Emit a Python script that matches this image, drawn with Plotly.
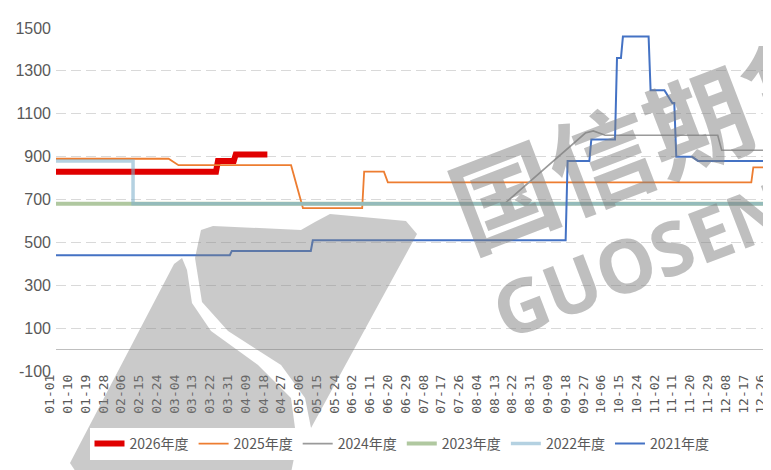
import plotly.graph_objects as go

# x 轴刻度（每 9 天一个）
tick_labels = [
    "01-01", "01-10", "01-19", "01-28", "02-06", "02-15", "02-24", "03-04",
    "03-13", "03-22", "03-31", "04-09", "04-18", "04-27", "05-06", "05-15",
    "05-24", "06-02", "06-11", "06-20", "06-29", "07-08", "07-17", "07-26",
    "08-04", "08-13", "08-22", "08-31", "09-09", "09-18", "09-27", "10-06",
    "10-15", "10-24", "11-02", "11-11", "11-20", "11-29", "12-08", "12-17",
    "12-26",
]
y_ticks = [-100, 100, 300, 500, 700, 900, 1100, 1300, 1500]

# 各年度数据（拐点日期 / 数值）
d2026 = ["01-01", "03-22", "03-23", "03-31", "04-01", "04-17"]
v2026 = [830, 830, 880, 880, 910, 910]

d2025 = ["01-01", "02-27", "03-03", "04-29", "05-05", "06-04", "06-05",
         "06-15", "06-17", "12-18", "12-19", "12-31"]
v2025 = [890, 890, 860, 860, 660, 660, 830, 830, 780, 780, 850, 850]

d2024 = ["01-01", "08-15", "09-25", "09-29", "10-05", "12-01", "12-03", "12-31"]
v2024 = [680, 680, 1010, 1020, 1000, 1000, 930, 930]

d2023 = ["01-01", "12-30"]
v2023 = [680, 680]

d2022 = ["01-01", "02-09", "02-09", "12-30"]
v2022 = [880, 880, 680, 680]

d2021 = ["01-01", "03-29", "03-30", "05-09", "05-10", "09-15", "09-16",
         "09-27", "09-28", "10-10", "10-11", "10-13", "10-14", "10-27",
         "10-28", "11-04", "11-08", "11-09", "11-10", "11-18", "11-21", "12-31"]
v2021 = [440, 440, 460, 460, 510, 510, 880, 880, 980, 980, 1360, 1360,
         1460, 1460, 1210, 1210, 1150, 1150, 900, 900, 880, 880]

series = [
    ("2026年度", d2026, v2026, "#E00000", 6),
    ("2025年度", d2025, v2025, "#ED7D31", 1.8),
    ("2024年度", d2024, v2024, "#9A9A9A", 1.6),
    ("2023年度", d2023, v2023, "#B0C8A0", 4),
    ("2022年度", d2022, v2022, "rgba(130,178,205,0.6)", 3.5),
    ("2021年度", d2021, v2021, "#4472C4", 2),
]

W, H = 771, 470
L, R, T, B = 48, 2, 20, 107
PW, PH = W - L - R, H - T - B


def to_date(mmdd):
    return "2024-" + mmdd


def px(x, y):
    # 像素坐标 -> paper 坐标（仅用于水印）
    return (x - L) / PW, (H - B - y) / PH


fig = go.Figure()

for name, dates, vals, color, width in series:
    fig.add_trace(go.Scatter(
        x=[to_date(d) for d in dates],
        y=vals,
        name=name,
        mode="lines",
        line=dict(color=color, width=width),
    ))

# 水印：logo
left_piece = [(62, 455), (72, 470), (282, 470), (288, 440), (287, 420), (283, 390),
              (250, 357), (203, 323), (184, 295), (179, 262), (174, 250), (166, 256)]
right_piece = [(193, 222), (205, 218), (293, 222), (307, 214), (322, 206), (398, 213),
               (409, 226), (303, 420), (297, 390), (273, 357), (220, 323), (194, 294),
               (187, 250)]


def make_path(points):
    pts = [px(x, y) for x, y in points]
    return "M " + " L ".join(f"{a:.4f},{b:.4f}" for a, b in pts) + " Z"


for piece in (left_piece, right_piece):
    fig.add_shape(
        type="path", path=make_path(piece), xref="paper", yref="paper",
        fillcolor="rgba(128,128,128,0.42)", line=dict(width=0), layer="above",
    )

# 水印：文字
wx, wy = px(640, 128)
fig.add_annotation(
    x=wx, y=wy, xref="paper", yref="paper", text="<b>国信期货</b>",
    xanchor="center", yanchor="middle",
    showarrow=False, textangle=-21,
    font=dict(family="Noto Sans CJK SC", size=104, color="rgba(128,128,128,0.50)"),
)
gx, gy = px(632, 250)
fig.add_annotation(
    x=gx, y=gy, xref="paper", yref="paper", text="<b>GUOSEN</b>",
    xanchor="center", yanchor="middle",
    showarrow=False, textangle=-21,
    font=dict(family="Noto Sans", size=74, color="rgba(128,128,128,0.50)"),
)

fig.update_layout(
    width=W,
    height=H,
    margin=dict(l=L, r=R, t=T, b=B),
    paper_bgcolor="white",
    plot_bgcolor="white",
    showlegend=True,
    legend=dict(
        orientation="h",
        x=(394 - L) / PW,
        xanchor="center",
        y=(H - B - 436) / PH,
        yanchor="middle",
        font=dict(family="Noto Sans CJK SC", size=14, color="#595959"),
        itemwidth=30,
        tracegroupgap=0,
    ),
    xaxis=dict(
        type="date",
        range=[to_date("01-01"), to_date("12-31")],
        tickvals=[to_date(t) for t in tick_labels],
        ticktext=tick_labels,
        tickangle=-90,
        ticklabelshift=-6,
        tickfont=dict(family="DejaVu Sans Mono", size=13, color="#595959"),
        showgrid=False,
        showline=False,
        zeroline=False,
        ticks="",
        automargin=False,
    ),
    yaxis=dict(
        range=[-100, 1500],
        tickvals=y_ticks,
        ticktext=[str(v) for v in y_ticks],
        tickfont=dict(family="Liberation Sans Narrow, Arial Narrow, sans-serif",
                      size=16, color="#595959"),
        ticklabelstandoff=4,
        showgrid=True,
        gridcolor="#D9D9D9",
        griddash="10px,5px",
        gridwidth=1,
        zeroline=True,
        zerolinecolor="#BFBFBF",
        zerolinewidth=1,
        showline=False,
        ticks="",
        automargin=False,
    ),
)

fig.write_html("out.html")
